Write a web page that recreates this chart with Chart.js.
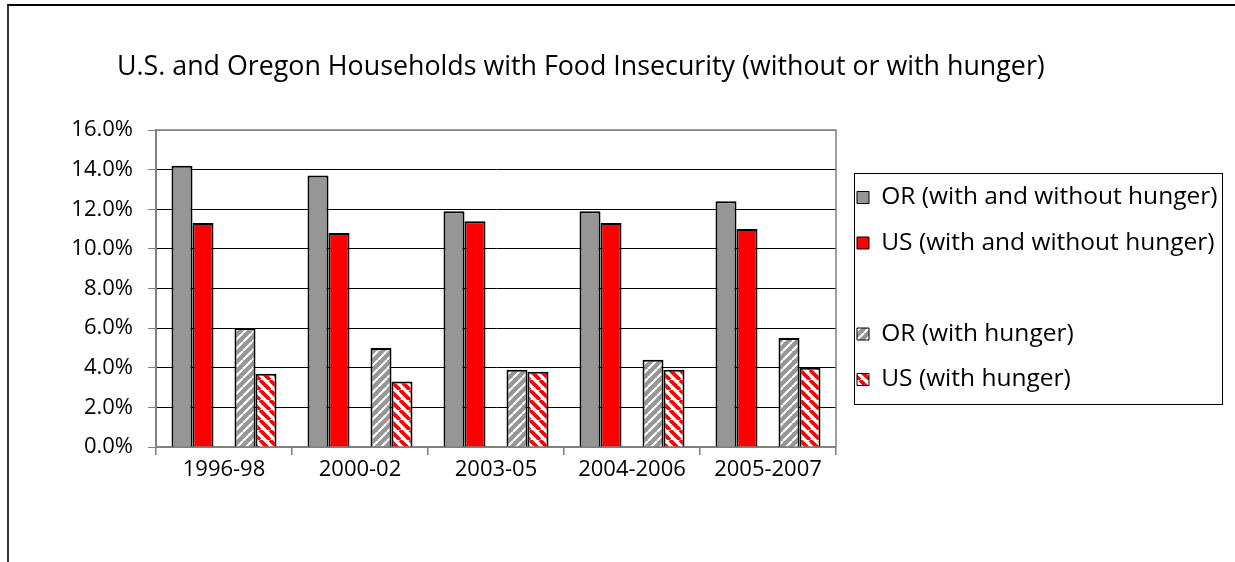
<!DOCTYPE html>
<html>
<head>
<meta charset="utf-8">
<script src="https://cdn.jsdelivr.net/npm/chart.js@4/dist/chart.umd.min.js"></script>
<style>
  html, body { margin: 0; padding: 0; background: #fff; overflow: hidden; }
  #frame { position: absolute; left: 7px; top: 4px; width: 1400px; height: 700px;
           border-top: 2px solid #000; border-left: 2px solid #333; }
  #chartBox { position: absolute; left: 0; top: 0; }
  h1 { position: absolute; left: 117px; top: 50px; margin: 0; white-space: nowrap;
       font: normal 26.8px/30px 'Open Sans', sans-serif; color: #000; }
</style>
</head>
<body>
<div id="frame"></div>
<div id="chartBox"><canvas id="hungerChart" width="1235" height="562"></canvas></div>
<h1>U.S. and Oregon Households with Food Insecurity (without or with hunger)</h1>
<script>
// Dados (% de domicílios)
const periods = ['1996-98', '2000-02', '2003-05', '2004-2006', '2005-2007'];
const orTotal = [14.2, 13.7, 11.9, 11.9, 12.4];
const usTotal = [11.3, 10.8, 11.4, 11.3, 11.0];
const spacer = [null, null, null, null, null];
const orHunger = [6.0, 5.0, 3.9, 4.4, 5.5];
const usHunger = [3.7, 3.3, 3.8, 3.9, 4.0];
const yTickLabels = ['0.0%', '2.0%', '4.0%', '6.0%', '8.0%', '10.0%', '12.0%', '14.0%', '16.0%'];
const seriesNames = ['OR (with and without hunger)', 'US (with and without hunger)', '', 'OR (with hunger)', 'US (with hunger)'];

const FONT = 'Open Sans';
const W = 1235;
const PLOT_RIGHT = 836;

// Padrão listrado para as barras "com fome"
function stripes(bg, fg, size, band, dir) {
    const c = document.createElement('canvas');
    c.width = c.height = size;
    const g = c.getContext('2d');
    g.fillStyle = bg;
    g.fillRect(0, 0, size, size);
    g.strokeStyle = fg;
    g.lineWidth = band;
    g.beginPath();
    for (let k = -1; k <= 1; k++) {
        if (dir === '/') {
            g.moveTo(k * size, size);
            g.lineTo(k * size + size, 0);
        } else {
            g.moveTo(k * size, 0);
            g.lineTo(k * size + size, size);
        }
    }
    g.stroke();
    return g.createPattern(c, 'repeat');
}
const grayHatch = stripes('#969696', '#ffffff', 9, 2.2, '/');
const redHatch = stripes('#ffffff', '#ff0000', 10, 3.8, '\\');

// Legenda à direita: mede o texto para o gráfico terminar em PLOT_RIGHT
const legendFont = { family: FONT, size: 24.5 };
const legendPad = 21;
const m = document.createElement('canvas').getContext('2d');
m.font = legendFont.size + 'px "' + FONT + '"';
const maxText = Math.max(...seriesNames.map(t => m.measureText(t).width));
const legendWidth = legendPad + 12 + legendFont.size / 2 + maxText + 10;
const rightPad = Math.max(0, W - PLOT_RIGHT - legendWidth);

// Moldura cinza do gráfico (topo e direita) e caixa da legenda
const frames = {
    id: 'frames',
    afterDraw(chart) {
        const { ctx, chartArea: a, legend } = chart;
        ctx.save();
        ctx.strokeStyle = '#808080';
        ctx.lineWidth = 1.5;
        ctx.beginPath();
        ctx.moveTo(a.left, a.top);
        ctx.lineTo(a.right, a.top);
        ctx.lineTo(a.right, a.bottom);
        ctx.stroke();

        const boxes = legend.legendHitBoxes;
        const first = boxes[0];
        const last = boxes[boxes.length - 1];
        const x0 = Math.round(first.left - 3) + 0.5;
        const y0 = Math.round(first.top - 12) + 0.5;
        const x1 = Math.round(first.left + first.width + 5) + 0.5;
        const y1 = Math.round(last.top + last.height + 12) + 0.5;
        ctx.strokeStyle = '#000';
        ctx.lineWidth = 1;
        ctx.strokeRect(x0, y0, x1 - x0, y1 - y0);
        ctx.restore();
    }
};

const ds = (label, data, color) => ({
    label: label,
    data: data,
    backgroundColor: color,
    borderColor: '#000',
    borderWidth: 2
});

new Chart(document.getElementById('hungerChart'), {
    type: 'bar',
    data: {
        labels: periods,
        datasets: [
            ds(seriesNames[0], orTotal, '#969696'),
            ds(seriesNames[1], usTotal, '#ff0000'),
            { label: seriesNames[2], data: spacer, backgroundColor: 'rgba(0,0,0,0)', borderWidth: 0 },
            ds(seriesNames[3], orHunger, grayHatch),
            ds(seriesNames[4], usHunger, redHatch)
        ]
    },
    options: {
        responsive: false,
        animation: false,
        devicePixelRatio: 1,
        layout: { padding: { left: 0, right: rightPad, top: 130, bottom: 0 } },
        datasets: { bar: { categoryPercentage: 0.772, barPercentage: 1 } },
        plugins: {
            title: { display: false },
            legend: {
                position: 'right',
                fullSize: false,
                align: 'center',
                maxWidth: W - PLOT_RIGHT,
                labels: {
                    boxWidth: 12,
                    boxHeight: 12,
                    padding: legendPad,
                    color: '#000',
                    font: legendFont,
                    generateLabels: chart => Chart.defaults.plugins.legend.labels.generateLabels(chart)
                        .map(item => Object.assign(item, { lineWidth: item.lineWidth ? 1 : 0 }))
                }
            },
            tooltip: { enabled: false }
        },
        scales: {
            x: {
                grid: { offset: true, drawOnChartArea: false, color: '#808080', lineWidth: 1.5, tickLength: 8 },
                border: { color: '#808080', width: 2 },
                ticks: { color: '#000', font: { family: FONT, size: 22 }, padding: 2, maxRotation: 0, autoSkip: false },
                afterFit: scale => { scale.height = 115; }
            },
            y: {
                min: 0,
                max: 16,
                ticks: {
                    stepSize: 2,
                    color: '#000',
                    font: { family: FONT, size: 22 },
                    padding: 15,
                    callback: (value, i) => yTickLabels[i]
                },
                grid: {
                    color: c => c.tick && c.tick.value === 16 ? '#808080' : '#000',
                    tickColor: '#808080',
                    lineWidth: 1,
                    tickLength: 8
                },
                border: { color: '#808080', width: 2 },
                afterFit: scale => { scale.width = 156; }
            }
        }
    },
    plugins: [frames]
});
</script>
</body>
</html>
